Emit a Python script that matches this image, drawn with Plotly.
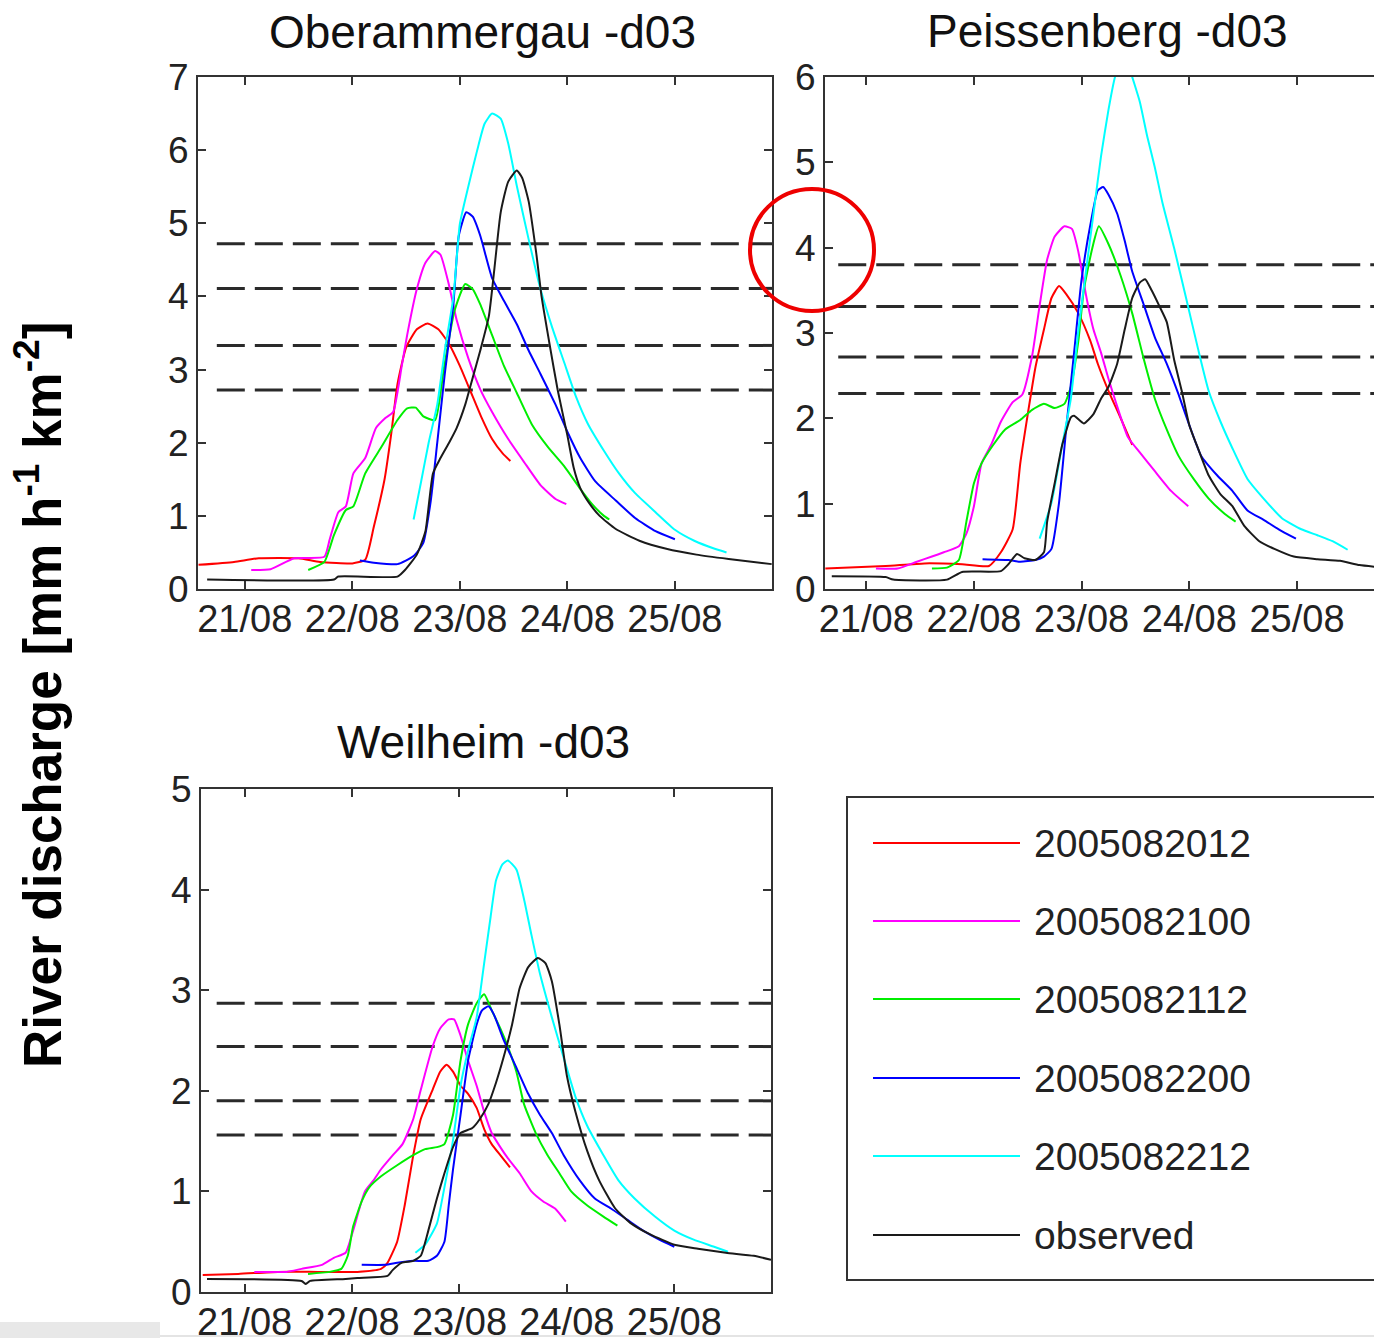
import plotly.graph_objects as go

# ---------------- data ----------------
SERIES = ["2005082012", "2005082100", "2005082112", "2005082200", "2005082212", "observed"]
COLORS = ["#ff0000", "#ff00ff", "#00ee00", "#0000ff", "#00ffff", "#1a1a1a"]
TICK_DAYS = [21, 22, 23, 24, 25]
TICK_LABELS = ["21/08", "22/08", "23/08", "24/08", "25/08"]
TITLES = ["Oberammergau -d03", "Peissenberg -d03", "Weilheim -d03"]
Y_TITLE = "<b>River discharge [mm h<sup>-1</sup> km<sup>-2</sup>]</b>"

# thresholds (dashed lines)
OBE_THRESH = [4.72, 4.11, 3.33, 2.72]
PEI_THRESH = [3.80, 3.31, 2.72, 2.29]
WEI_THRESH = [2.87, 2.44, 1.90, 1.56]

# ---- Oberammergau (x in days of August 2005) ----
OBE_X_2005082012 = [20.57, 20.9, 21.13, 21.5, 21.7, 22.0, 22.12, 22.2, 22.3, 22.36, 22.42, 22.5, 22.6, 22.7, 22.8, 22.9, 23.0, 23.1, 23.2, 23.3, 23.4, 23.47]
OBE_Y_2005082012 = [0.33, 0.37, 0.42, 0.42, 0.37, 0.35, 0.4, 0.85, 1.5, 2.1, 2.8, 3.3, 3.55, 3.63, 3.55, 3.35, 3.05, 2.7, 2.35, 2.05, 1.85, 1.75]
OBE_X_2005082100 = [21.06, 21.24, 21.46, 21.74, 21.79, 21.87, 21.94, 22.01, 22.12, 22.22, 22.31, 22.38, 22.46, 22.51, 22.6, 22.68, 22.77, 22.82, 22.9, 22.97, 23.08, 23.19, 23.3, 23.45, 23.6, 23.75, 23.89, 23.99]
OBE_Y_2005082100 = [0.26, 0.27, 0.42, 0.44, 0.68, 1.05, 1.13, 1.58, 1.79, 2.2, 2.34, 2.42, 3.05, 3.47, 4.1, 4.46, 4.62, 4.57, 4.15, 3.68, 3.15, 2.73, 2.42, 2.05, 1.73, 1.42, 1.23, 1.16]
OBE_X_2005082112 = [21.59, 21.74, 21.83, 21.94, 22.01, 22.12, 22.27, 22.42, 22.51, 22.59, 22.66, 22.77, 22.85, 22.95, 23.05, 23.12, 23.19, 23.3, 23.41, 23.53, 23.67, 23.82, 23.97, 24.12, 24.23, 24.34, 24.39]
OBE_Y_2005082112 = [0.26, 0.37, 0.74, 1.08, 1.13, 1.58, 1.94, 2.31, 2.47, 2.48, 2.36, 2.31, 3.0, 3.8, 4.17, 4.1, 3.89, 3.47, 3.05, 2.68, 2.25, 1.94, 1.68, 1.37, 1.16, 1.0, 0.95]
OBE_X_2005082200 = [22.07, 22.2, 22.42, 22.57, 22.66, 22.73, 22.79, 22.86, 22.94, 22.99, 23.06, 23.12, 23.19, 23.3, 23.41, 23.53, 23.64, 23.75, 23.89, 24.0, 24.12, 24.26, 24.45, 24.63, 24.82, 25.0]
OBE_Y_2005082200 = [0.39, 0.36, 0.34, 0.45, 0.63, 1.21, 2.0, 2.94, 3.89, 4.83, 5.15, 5.09, 4.83, 4.25, 3.94, 3.62, 3.26, 2.94, 2.52, 2.15, 1.79, 1.47, 1.21, 0.97, 0.79, 0.68]
OBE_X_2005082212 = [22.57, 22.64, 22.71, 22.79, 22.86, 22.94, 23.0, 23.08, 23.16, 23.23, 23.3, 23.38, 23.45, 23.53, 23.64, 23.75, 23.86, 23.97, 24.08, 24.19, 24.34, 24.48, 24.63, 24.82, 25.0, 25.18, 25.37, 25.48]
OBE_Y_2005082212 = [0.95, 1.47, 2.0, 2.52, 3.26, 3.99, 4.99, 5.51, 5.99, 6.36, 6.5, 6.43, 6.09, 5.51, 4.78, 4.1, 3.57, 3.1, 2.63, 2.26, 1.89, 1.58, 1.31, 1.05, 0.81, 0.66, 0.55, 0.5]
OBE_X_OBS = [20.65, 21.83, 21.87, 22.42, 22.49, 22.6, 22.68, 22.75, 22.82, 22.9, 22.97, 23.05, 23.12, 23.19, 23.27, 23.32, 23.38, 23.45, 23.53, 23.58, 23.64, 23.71, 23.76, 23.84, 23.91, 24.0, 24.06, 24.12, 24.2, 24.3, 24.45, 24.67, 24.92, 25.2, 25.5, 25.9]
OBE_Y_OBS = [0.13, 0.13, 0.17, 0.17, 0.26, 0.47, 0.79, 1.58, 1.79, 2.0, 2.2, 2.52, 2.89, 3.26, 3.73, 4.36, 5.15, 5.57, 5.72, 5.62, 5.3, 4.6, 4.0, 3.3, 2.72, 2.1, 1.65, 1.38, 1.18, 1.0, 0.82, 0.66, 0.55, 0.47, 0.41, 0.34]

# ---- Peissenberg ----
PEI_X_2005082012 = [20.62, 21.18, 21.54, 21.89, 22.14, 22.25, 22.36, 22.43, 22.5, 22.57, 22.65, 22.72, 22.79, 22.86, 22.97, 23.08, 23.15, 23.25, 23.36, 23.47]
PEI_Y_2005082012 = [0.24, 0.27, 0.3, 0.29, 0.27, 0.43, 0.7, 1.47, 2.05, 2.59, 3.04, 3.41, 3.55, 3.45, 3.23, 2.91, 2.64, 2.32, 2.01, 1.69]
PEI_X_2005082100 = [21.09, 21.29, 21.47, 21.61, 21.72, 21.86, 21.93, 22.0, 22.07, 22.16, 22.25, 22.36, 22.45, 22.54, 22.61, 22.68, 22.75, 22.84, 22.91, 22.97, 23.04, 23.11, 23.18, 23.25, 23.33, 23.43, 23.54, 23.68, 23.83, 23.99]
PEI_Y_2005082100 = [0.24, 0.24, 0.32, 0.38, 0.43, 0.5, 0.65, 0.97, 1.47, 1.69, 1.96, 2.19, 2.28, 2.73, 3.32, 3.86, 4.13, 4.25, 4.22, 3.95, 3.45, 3.04, 2.77, 2.46, 2.14, 1.78, 1.6, 1.38, 1.15, 0.97]
PEI_X_2005082112 = [21.61, 21.75, 21.86, 21.93, 22.0, 22.07, 22.18, 22.29, 22.43, 22.54, 22.65, 22.75, 22.84, 22.9, 22.97, 23.02, 23.1, 23.16, 23.25, 23.36, 23.47, 23.58, 23.68, 23.79, 23.9, 24.04, 24.18, 24.33, 24.43]
PEI_Y_2005082112 = [0.24, 0.25, 0.34, 0.79, 1.24, 1.47, 1.69, 1.87, 1.98, 2.1, 2.17, 2.12, 2.17, 2.37, 2.91, 3.5, 4.0, 4.25, 4.04, 3.68, 3.23, 2.68, 2.23, 1.87, 1.56, 1.29, 1.06, 0.88, 0.79]
PEI_X_2005082200 = [22.08, 22.32, 22.43, 22.57, 22.65, 22.72, 22.79, 22.86, 22.93, 23.0, 23.08, 23.15, 23.2, 23.25, 23.33, 23.4, 23.47, 23.58, 23.68, 23.79, 23.9, 24.0, 24.11, 24.26, 24.4, 24.54, 24.69, 24.83, 24.99]
PEI_Y_2005082200 = [0.35, 0.34, 0.32, 0.34, 0.38, 0.47, 1.01, 1.92, 2.77, 3.63, 4.26, 4.67, 4.71, 4.62, 4.4, 4.08, 3.72, 3.32, 2.95, 2.64, 2.28, 1.92, 1.56, 1.33, 1.15, 0.92, 0.81, 0.7, 0.59]
PEI_X_2005082212 = [22.61, 22.72, 22.82, 22.9, 22.97, 23.04, 23.11, 23.18, 23.25, 23.31, 23.4, 23.47, 23.54, 23.61, 23.68, 23.75, 23.86, 23.97, 24.08, 24.18, 24.29, 24.4, 24.54, 24.69, 24.86, 25.04, 25.19, 25.33, 25.47]
PEI_Y_2005082212 = [0.59, 1.01, 1.69, 2.23, 3.04, 3.72, 4.4, 5.07, 5.62, 6.0, 6.3, 6.0, 5.71, 5.3, 4.94, 4.53, 3.99, 3.41, 2.82, 2.32, 1.96, 1.65, 1.29, 1.06, 0.83, 0.7, 0.63, 0.56, 0.46]
PEI_X_OBS = [20.68, 21.18, 21.25, 21.75, 21.89, 22.25, 22.32, 22.4, 22.47, 22.57, 22.65, 22.68, 22.75, 22.82, 22.9, 22.93, 23.02, 23.11, 23.18, 23.25, 23.33, 23.4, 23.47, 23.54, 23.59, 23.65, 23.72, 23.79, 23.86, 23.93, 24.0, 24.08, 24.18, 24.29, 24.4, 24.51, 24.65, 24.79, 24.97, 25.19, 25.4, 25.58, 25.72]
PEI_Y_OBS = [0.15, 0.14, 0.11, 0.11, 0.2, 0.21, 0.29, 0.41, 0.36, 0.34, 0.43, 0.79, 1.24, 1.69, 2.01, 2.03, 1.94, 2.05, 2.23, 2.37, 2.64, 3.04, 3.41, 3.59, 3.63, 3.5, 3.32, 3.13, 2.68, 2.32, 1.92, 1.65, 1.33, 1.11, 0.97, 0.74, 0.56, 0.47, 0.38, 0.35, 0.33, 0.28, 0.26]

# ---- Weilheim ----
WEI_X_2005082012 = [20.61, 20.94, 21.31, 21.68, 22.05, 22.27, 22.33, 22.42, 22.49, 22.57, 22.64, 22.75, 22.82, 22.88, 22.94, 23.01, 23.08, 23.16, 23.23, 23.3, 23.38, 23.47]
WEI_Y_2005082012 = [0.17, 0.18, 0.2, 0.2, 0.2, 0.23, 0.29, 0.5, 0.86, 1.36, 1.72, 2.01, 2.19, 2.26, 2.19, 2.05, 1.97, 1.83, 1.62, 1.47, 1.36, 1.24]
WEI_X_2005082100 = [21.09, 21.39, 21.53, 21.72, 21.83, 21.94, 22.01, 22.12, 22.2, 22.27, 22.38, 22.47, 22.57, 22.64, 22.75, 22.82, 22.9, 22.95, 23.01, 23.08, 23.16, 23.23, 23.3, 23.38, 23.45, 23.56, 23.67, 23.78, 23.89, 23.99]
WEI_Y_2005082100 = [0.2, 0.2, 0.23, 0.27, 0.34, 0.39, 0.61, 1.0, 1.11, 1.22, 1.36, 1.47, 1.72, 2.01, 2.44, 2.62, 2.71, 2.71, 2.55, 2.3, 2.05, 1.79, 1.58, 1.44, 1.33, 1.18, 1.0, 0.9, 0.83, 0.7]
WEI_X_2005082112 = [21.59, 21.79, 21.9, 21.96, 22.01, 22.09, 22.16, 22.27, 22.42, 22.57, 22.68, 22.79, 22.86, 22.94, 23.01, 23.08, 23.16, 23.23, 23.3, 23.38, 23.45, 23.53, 23.6, 23.71, 23.82, 23.93, 24.04, 24.19, 24.34, 24.47]
WEI_Y_2005082112 = [0.18, 0.2, 0.23, 0.36, 0.65, 0.9, 1.04, 1.15, 1.26, 1.36, 1.42, 1.44, 1.47, 1.76, 2.3, 2.66, 2.87, 2.96, 2.8, 2.62, 2.44, 2.19, 1.87, 1.58, 1.36, 1.18, 1.0, 0.86, 0.75, 0.66]
WEI_X_2005082200 = [22.09, 22.31, 22.42, 22.57, 22.71, 22.79, 22.86, 22.9, 22.94, 23.01, 23.08, 23.16, 23.21, 23.27, 23.32, 23.41, 23.53, 23.64, 23.75, 23.86, 23.97, 24.12, 24.26, 24.41, 24.56, 24.71, 24.86, 25.0]
WEI_Y_2005082200 = [0.27, 0.27, 0.29, 0.31, 0.31, 0.36, 0.5, 0.86, 1.22, 1.76, 2.3, 2.66, 2.8, 2.84, 2.76, 2.51, 2.23, 1.97, 1.76, 1.58, 1.36, 1.11, 0.93, 0.83, 0.72, 0.61, 0.52, 0.45]
WEI_X_2005082212 = [22.59, 22.68, 22.79, 22.86, 22.94, 23.01, 23.08, 23.16, 23.23, 23.29, 23.34, 23.4, 23.45, 23.53, 23.6, 23.67, 23.75, 23.86, 23.97, 24.08, 24.19, 24.34, 24.48, 24.63, 24.82, 25.0, 25.18, 25.37, 25.5]
WEI_Y_2005082212 = [0.39, 0.47, 0.68, 1.04, 1.51, 2.05, 2.4, 2.73, 3.27, 3.73, 4.09, 4.25, 4.29, 4.2, 3.91, 3.55, 3.16, 2.73, 2.33, 1.94, 1.65, 1.36, 1.11, 0.93, 0.75, 0.61, 0.52, 0.45, 0.4]
WEI_X_OBS = [20.65, 21.53, 21.57, 21.61, 21.94, 22.05, 22.33, 22.38, 22.46, 22.57, 22.64, 22.71, 22.79, 22.86, 22.94, 23.01, 23.12, 23.19, 23.27, 23.34, 23.41, 23.49, 23.56, 23.64, 23.73, 23.8, 23.86, 23.93, 24.0, 24.08, 24.19, 24.3, 24.45, 24.6, 24.78, 25.0, 25.22, 25.48, 25.74, 25.9]
WEI_Y_OBS = [0.13, 0.11, 0.08, 0.11, 0.13, 0.14, 0.16, 0.22, 0.29, 0.31, 0.36, 0.61, 0.93, 1.18, 1.44, 1.58, 1.63, 1.72, 1.87, 2.08, 2.33, 2.66, 3.02, 3.23, 3.32, 3.27, 3.09, 2.66, 2.15, 1.79, 1.4, 1.11, 0.83, 0.68, 0.57, 0.47, 0.43, 0.39, 0.36, 0.32]

# ---------------- figure ----------------
W, H = 1374, 1338
def px(x): return x / W
def py(y): return 1 - y / H

FONT = "Liberation Sans, Arial, Helvetica, sans-serif"
AX_COL = "#333333"
TXT_COL = "#222222"

panels = [
    dict(xa="x", ya="y", thr=OBE_THRESH, xs=[OBE_X_2005082012, OBE_X_2005082100, OBE_X_2005082112, OBE_X_2005082200, OBE_X_2005082212, OBE_X_OBS],
         ys=[OBE_Y_2005082012, OBE_Y_2005082100, OBE_Y_2005082112, OBE_Y_2005082200, OBE_Y_2005082212, OBE_Y_OBS]),
    dict(xa="x2", ya="y2", thr=PEI_THRESH, xs=[PEI_X_2005082012, PEI_X_2005082100, PEI_X_2005082112, PEI_X_2005082200, PEI_X_2005082212, PEI_X_OBS],
         ys=[PEI_Y_2005082012, PEI_Y_2005082100, PEI_Y_2005082112, PEI_Y_2005082200, PEI_Y_2005082212, PEI_Y_OBS]),
    dict(xa="x3", ya="y3", thr=WEI_THRESH, xs=[WEI_X_2005082012, WEI_X_2005082100, WEI_X_2005082112, WEI_X_2005082200, WEI_X_2005082212, WEI_X_OBS],
         ys=[WEI_Y_2005082012, WEI_Y_2005082100, WEI_Y_2005082112, WEI_Y_2005082200, WEI_Y_2005082212, WEI_Y_OBS]),
]
XRANGES = [[20.565, 25.903], [20.617, 25.715], [20.594, 25.9]]
DASH_START = 20.74

fig = go.Figure()
for p, xr in zip(panels, XRANGES):
    for t in p["thr"]:
        fig.add_trace(go.Scatter(x=[DASH_START, xr[1] + 0.05], y=[t, t], mode="lines",
                                 line=dict(color="#2a2a2a", width=3, dash="28px,10px"),
                                 xaxis=p["xa"], yaxis=p["ya"], showlegend=False, hoverinfo="skip"))
    for name, col, xs, ys in zip(SERIES, COLORS, p["xs"], p["ys"]):
        fig.add_trace(go.Scatter(x=xs, y=ys, mode="lines", name=name,
                                 line=dict(color=col, width=2, shape="spline", smoothing=0.5),
                                 xaxis=p["xa"], yaxis=p["ya"], showlegend=False))

def xax(domain, rng, anchor, mirror="ticks"):
    return dict(domain=domain, range=rng, anchor=anchor, tickmode="array", tickvals=TICK_DAYS,
                ticktext=TICK_LABELS, ticks="inside", ticklen=8, tickwidth=2, tickcolor=AX_COL,
                showline=True, linecolor=AX_COL, linewidth=2, mirror=mirror, showgrid=False,
                zeroline=False, automargin=False, fixedrange=True, ticklabelstandoff=-5,
                tickfont=dict(family=FONT, size=38, color=TXT_COL))

def yax(domain, rng, anchor, dtick_max, mirror="ticks"):
    return dict(domain=domain, range=rng, anchor=anchor, tickmode="array",
                tickvals=list(range(0, dtick_max + 1)), ticks="inside", ticklen=8, tickwidth=2,
                tickcolor=AX_COL, showline=True, linecolor=AX_COL, linewidth=2, mirror=mirror,
                showgrid=False, zeroline=False, automargin=False, fixedrange=True,
                tickfont=dict(family=FONT, size=37, color=TXT_COL))

fig.update_layout(
    width=W, height=H, margin=dict(l=0, r=0, t=0, b=0, pad=0, autoexpand=False),
    paper_bgcolor="white", plot_bgcolor="white",
    xaxis=xax([px(198), px(772)], XRANGES[0], "y"),
    yaxis=yax([py(589), py(77)], [0, 7], "x", 7),
    xaxis2=xax([px(825), 1.0], XRANGES[1], "y2"),
    yaxis2=yax([py(589), py(77)], [0, 6], "x2", 6, mirror=False),
    xaxis3=xax([px(201), px(771)], XRANGES[2], "y3"),
    yaxis3=yax([py(1292), py(789)], [0, 5], "x3", 5),
)

annotations = []
for title, (cx, cy) in zip(TITLES, [(482, 32), (1107, 31), (483, 742)]):
    annotations.append(dict(text=title, x=px(cx), y=py(cy), xref="paper", yref="paper",
                            xanchor="center", yanchor="middle", showarrow=False,
                            font=dict(family=FONT, size=46, color="#111111")))
annotations.append(dict(text=Y_TITLE, x=px(38), y=py(695), xref="paper", yref="paper",
                        xanchor="center", yanchor="middle", textangle=-90, showarrow=False,
                        font=dict(family=FONT, size=53, color="#000000")))

shapes = []
# legend box
shapes.append(dict(type="rect", xref="paper", yref="paper", x0=px(847), x1=px(1390),
                   y0=py(1280), y1=py(797), line=dict(color=AX_COL, width=2), fillcolor="rgba(0,0,0,0)"))
LEG_ROWS = [843, 921, 999, 1078, 1156, 1235]
for name, col, ry in zip(SERIES, COLORS, LEG_ROWS):
    shapes.append(dict(type="line", xref="paper", yref="paper", x0=px(873), x1=px(1020),
                       y0=py(ry), y1=py(ry), line=dict(color=col, width=2)))
    annotations.append(dict(text=name, x=px(1032), y=py(ry), xref="paper", yref="paper",
                            xanchor="left", yanchor="middle", showarrow=False,
                            font=dict(family=FONT, size=39, color=TXT_COL)))
# red highlight circle
shapes.append(dict(type="circle", xref="paper", yref="paper", x0=px(750), x1=px(874),
                   y0=py(311), y1=py(189), line=dict(color="#ee0000", width=4)))
# faint strip at the bottom
shapes.append(dict(type="rect", xref="paper", yref="paper", x0=0, x1=px(160),
                   y0=0, y1=py(1322), line=dict(width=0), fillcolor="#e8e8e8"))
shapes.append(dict(type="line", xref="paper", yref="paper", x0=px(160), x1=1,
                   y0=py(1336), y1=py(1336), line=dict(color="#e4e4e4", width=2)))

fig.update_layout(annotations=annotations, shapes=shapes)

fig.write_html("out.html", config={"displayModeBar": False},
               post_script="document.body.style.margin='0';document.body.style.overflow='hidden';")
